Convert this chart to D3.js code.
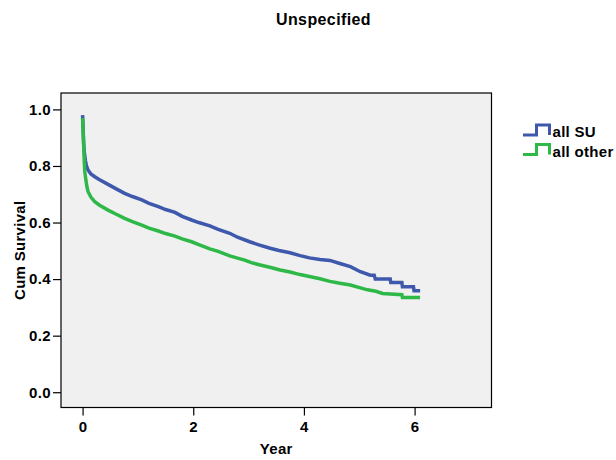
<!DOCTYPE html>
<html>
<head>
<meta charset="utf-8">
<script src="https://cdn.jsdelivr.net/npm/d3@7"></script>
<style>
  body { margin: 0; background: #fff; }
  text { font-family: "Liberation Sans", Arial, sans-serif; font-weight: bold; fill: #000; letter-spacing: 0.3px; }
</style>
</head>
<body>
<div id="chart"></div>
<script>
// Kaplan-Meier estimates (tail steps given as explicit corners)
const suYears = [0, 0.01, 0.02, 0.03, 0.05, 0.07, 0.1, 0.15, 0.22, 0.3, 0.46, 0.6, 0.76, 0.9, 1.07, 1.2, 1.37, 1.5, 1.67, 1.8, 1.97, 2.1, 2.3, 2.45, 2.66, 2.8, 3.02, 3.2, 3.39, 3.55, 3.75, 3.93, 4.1, 4.29, 4.47, 4.65, 4.84, 5.02, 5.2, 5.27, 5.29, 5.56, 5.57, 5.77, 5.78, 5.98, 5.99, 6.10];
const suSurv = [0.98, 0.93, 0.88, 0.85, 0.82, 0.80, 0.785, 0.772, 0.762, 0.752, 0.735, 0.72, 0.703, 0.692, 0.68, 0.668, 0.656, 0.646, 0.636, 0.622, 0.609, 0.600, 0.588, 0.576, 0.562, 0.548, 0.532, 0.520, 0.509, 0.501, 0.493, 0.483, 0.475, 0.469, 0.466, 0.455, 0.444, 0.426, 0.414, 0.414, 0.400, 0.400, 0.388, 0.388, 0.373, 0.373, 0.359, 0.359];

const otherYears = [0, 0.01, 0.02, 0.03, 0.04, 0.06, 0.08, 0.10, 0.15, 0.22, 0.3, 0.46, 0.6, 0.76, 0.9, 1.07, 1.2, 1.37, 1.5, 1.67, 1.8, 1.97, 2.1, 2.3, 2.45, 2.66, 2.8, 2.93, 3.05, 3.21, 3.4, 3.57, 3.75, 3.93, 4.1, 4.29, 4.47, 4.65, 4.84, 5.02, 5.15, 5.3, 5.42, 5.77, 5.78, 6.10];
const otherSurv = [0.97, 0.92, 0.87, 0.82, 0.78, 0.75, 0.725, 0.709, 0.69, 0.674, 0.662, 0.644, 0.630, 0.615, 0.603, 0.591, 0.580, 0.570, 0.561, 0.552, 0.542, 0.532, 0.522, 0.507, 0.498, 0.482, 0.474, 0.467, 0.458, 0.450, 0.441, 0.432, 0.425, 0.416, 0.409, 0.401, 0.392, 0.385, 0.379, 0.369, 0.362, 0.357, 0.349, 0.345, 0.335, 0.335];

const seriesNames = ["all SU", "all other"];
const seriesColors = ["#3e58ac", "#2eb848"];
const xTicks = [0, 2, 4, 6];
const yTicks = [0, 0.2, 0.4, 0.6, 0.8, 1.0];

const width = 616, height = 460;
const plot = {left: 61, top: 93, right: 491.5, bottom: 407.5};

const svg = d3.select("#chart").append("svg")
    .attr("width", width)
    .attr("height", height);

const x = d3.scaleLinear().domain([-0.39, 7.39]).range([plot.left, plot.right]);
const y = d3.scaleLinear().domain([-0.054, 1.058]).range([plot.bottom, plot.top]);

svg.append("rect")
    .attr("x", plot.left)
    .attr("y", plot.top)
    .attr("width", plot.right - plot.left)
    .attr("height", plot.bottom - plot.top)
    .style("fill", "#f0f0f0")
    .style("stroke", "#000")
    .style("stroke-width", 1.2);

const xAxis = svg.append("g")
    .attr("transform", `translate(0,${plot.bottom})`)
    .call(d3.axisBottom(x).tickValues(xTicks).tickFormat(d3.format("d")).tickSize(8).tickSizeOuter(0).tickPadding(6));
const yAxis = svg.append("g")
    .attr("transform", `translate(${plot.left},0)`)
    .call(d3.axisLeft(y).tickValues(yTicks).tickFormat(d3.format(".1f")).tickSize(8).tickSizeOuter(0).tickPadding(2));

[xAxis, yAxis].forEach(g => {
    g.select(".domain").remove();
    g.selectAll(".tick line").style("stroke", "#000").style("stroke-width", 1.2);
    g.selectAll(".tick text")
        .style("font-size", "15px")
        .style("font-family", "Liberation Sans, Arial, sans-serif")
        .style("font-weight", "bold")
        .style("letter-spacing", "0.4px");
});

const line = d3.line()
    .x(d => x(d[0]))
    .y(d => y(d[1]));

const series = [
    d3.zip(suYears, suSurv),
    d3.zip(otherYears, otherSurv)
];

series.forEach((pts, i) => {
    svg.append("path")
        .datum(pts)
        .attr("d", line)
        .style("fill", "none")
        .style("stroke", seriesColors[i])
        .style("stroke-width", 3.5);
});

// titles
svg.append("text")
    .attr("x", 323.5).attr("y", 25)
    .attr("text-anchor", "middle")
    .style("font-size", "16px")
    .style("letter-spacing", "0.4px")
    .text("Unspecified");

svg.append("text")
    .attr("x", (plot.left + plot.right) / 2).attr("y", 454)
    .attr("text-anchor", "middle")
    .style("font-size", "15px")
    .text("Year");

svg.append("text")
    .attr("transform", `translate(25,${(plot.top + plot.bottom) / 2}) rotate(-90)`)
    .attr("text-anchor", "middle")
    .style("font-size", "15px")
    .text("Cum Survival");

// legend with step glyphs
const legend = svg.selectAll(".legend")
    .data(seriesNames)
    .enter().append("g")
    .attr("class", "legend")
    .attr("transform", (d, i) => `translate(523, ${135 + i * 19.5})`);

legend.append("path")
    .attr("d", "M0,0 H13.5 V-10 H26.5 V0")
    .style("fill", "none")
    .style("stroke", (d, i) => seriesColors[i])
    .style("stroke-width", 3);

legend.append("text")
    .attr("x", 29.5)
    .attr("y", 2)
    .style("font-size", "15px")
    .text(d => d);
</script>
</body>
</html>
